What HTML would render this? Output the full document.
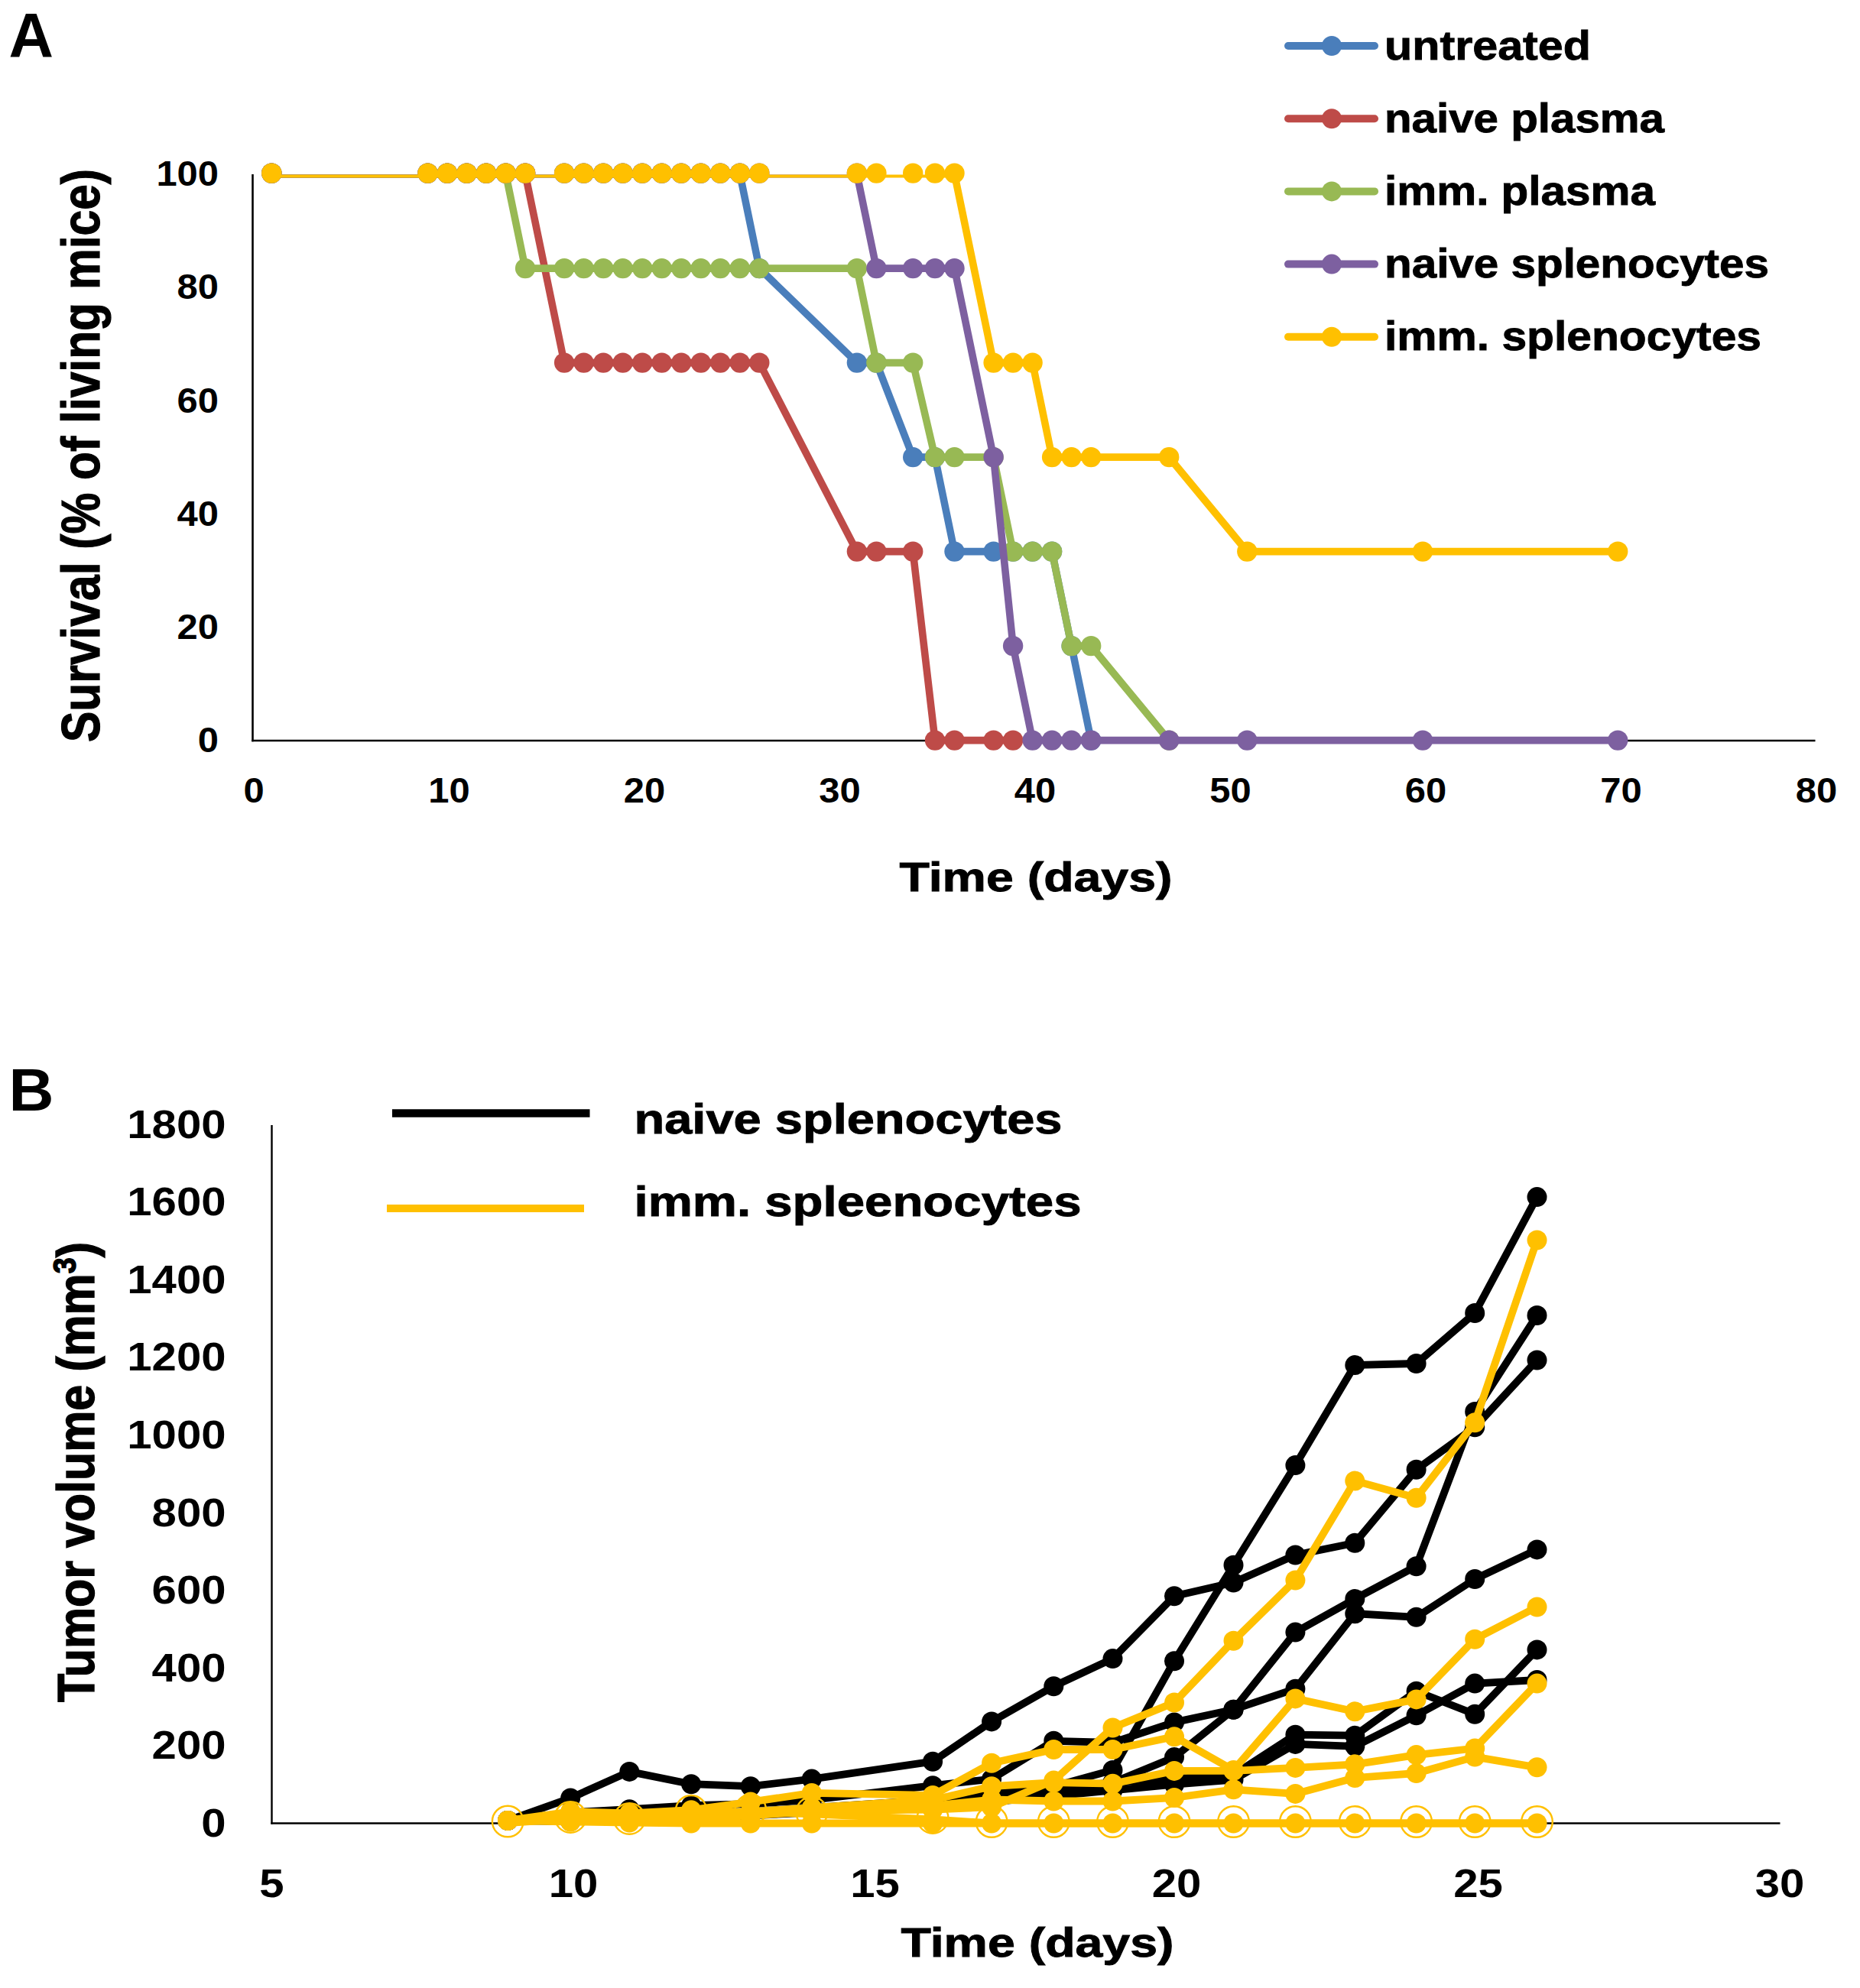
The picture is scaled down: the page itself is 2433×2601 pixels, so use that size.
<!DOCTYPE html>
<html lang="en">
<head>
<meta charset="utf-8">
<title>Figure: survival and tumor volume</title>
<style>
html,body{margin:0;padding:0;background:#fff;}
body{width:2433px;height:2601px;overflow:hidden;}
svg{display:block;}
text{fill:#000;}
</style>
</head>
<body>
<svg width="2433" height="2601" viewBox="0 0 2433 2601">
<rect x="0" y="0" width="2433" height="2601" fill="#ffffff"/>
<defs><clipPath id="clipA"><rect x="0" y="228.5" width="2433" height="900"/></clipPath></defs>
<g id="chartA">
<line x1="330.5" y1="228" x2="330.5" y2="970.2" stroke="#000" stroke-width="2.6"/>
<line x1="329.2" y1="969" x2="2374.5" y2="969" stroke="#000" stroke-width="2.6"/>
<g class="s-blue">
<polyline clip-path="url(#clipA)" points="355.3,227.6 559.5,227.6 585.0,227.6 610.5,227.6 636.0,227.6 661.6,227.6 687.1,227.6 738.1,227.6 763.6,227.6 789.2,227.6 814.7,227.6 840.2,227.6 865.7,227.6 891.2,227.6 916.8,227.6 942.3,227.6 967.8,227.6 993.3,351.1 1120.9,474.6 1146.4,474.6 1194.2,598.1 1223.0,598.1 1248.5,721.6 1299.6,721.6 1325.1,721.6 1350.6,721.6 1376.1,721.6 1401.6,845.1 1427.2,968.6" fill="none" stroke="#4a7ebb" stroke-width="9.6" stroke-linejoin="round" stroke-linecap="round"/>
<circle cx="355.3" cy="226.6" r="13.2" fill="#4a7ebb"/>
<circle cx="559.5" cy="226.6" r="13.2" fill="#4a7ebb"/>
<circle cx="585.0" cy="226.6" r="13.2" fill="#4a7ebb"/>
<circle cx="610.5" cy="226.6" r="13.2" fill="#4a7ebb"/>
<circle cx="636.0" cy="226.6" r="13.2" fill="#4a7ebb"/>
<circle cx="661.6" cy="226.6" r="13.2" fill="#4a7ebb"/>
<circle cx="687.1" cy="226.6" r="13.2" fill="#4a7ebb"/>
<circle cx="738.1" cy="226.6" r="13.2" fill="#4a7ebb"/>
<circle cx="763.6" cy="226.6" r="13.2" fill="#4a7ebb"/>
<circle cx="789.2" cy="226.6" r="13.2" fill="#4a7ebb"/>
<circle cx="814.7" cy="226.6" r="13.2" fill="#4a7ebb"/>
<circle cx="840.2" cy="226.6" r="13.2" fill="#4a7ebb"/>
<circle cx="865.7" cy="226.6" r="13.2" fill="#4a7ebb"/>
<circle cx="891.2" cy="226.6" r="13.2" fill="#4a7ebb"/>
<circle cx="916.8" cy="226.6" r="13.2" fill="#4a7ebb"/>
<circle cx="942.3" cy="226.6" r="13.2" fill="#4a7ebb"/>
<circle cx="967.8" cy="226.6" r="13.2" fill="#4a7ebb"/>
<circle cx="993.3" cy="351.1" r="13.2" fill="#4a7ebb"/>
<circle cx="1120.9" cy="474.6" r="13.2" fill="#4a7ebb"/>
<circle cx="1146.4" cy="474.6" r="13.2" fill="#4a7ebb"/>
<circle cx="1194.2" cy="598.1" r="13.2" fill="#4a7ebb"/>
<circle cx="1223.0" cy="598.1" r="13.2" fill="#4a7ebb"/>
<circle cx="1248.5" cy="721.6" r="13.2" fill="#4a7ebb"/>
<circle cx="1299.6" cy="721.6" r="13.2" fill="#4a7ebb"/>
<circle cx="1325.1" cy="721.6" r="13.2" fill="#4a7ebb"/>
<circle cx="1350.6" cy="721.6" r="13.2" fill="#4a7ebb"/>
<circle cx="1376.1" cy="721.6" r="13.2" fill="#4a7ebb"/>
<circle cx="1401.6" cy="845.1" r="13.2" fill="#4a7ebb"/>
<circle cx="1427.2" cy="968.6" r="13.2" fill="#4a7ebb"/>
</g>
<g class="s-red">
<polyline clip-path="url(#clipA)" points="355.3,227.6 559.5,227.6 585.0,227.6 610.5,227.6 636.0,227.6 661.6,227.6 687.1,227.6 738.1,474.6 763.6,474.6 789.2,474.6 814.7,474.6 840.2,474.6 865.7,474.6 891.2,474.6 916.8,474.6 942.3,474.6 967.8,474.6 993.3,474.6 1120.9,721.6 1146.4,721.6 1194.2,721.6 1223.0,968.6 1248.5,968.6 1299.6,968.6 1325.1,968.6" fill="none" stroke="#be4b48" stroke-width="9.6" stroke-linejoin="round" stroke-linecap="round"/>
<circle cx="355.3" cy="226.6" r="13.2" fill="#be4b48"/>
<circle cx="559.5" cy="226.6" r="13.2" fill="#be4b48"/>
<circle cx="585.0" cy="226.6" r="13.2" fill="#be4b48"/>
<circle cx="610.5" cy="226.6" r="13.2" fill="#be4b48"/>
<circle cx="636.0" cy="226.6" r="13.2" fill="#be4b48"/>
<circle cx="661.6" cy="226.6" r="13.2" fill="#be4b48"/>
<circle cx="687.1" cy="226.6" r="13.2" fill="#be4b48"/>
<circle cx="738.1" cy="474.6" r="13.2" fill="#be4b48"/>
<circle cx="763.6" cy="474.6" r="13.2" fill="#be4b48"/>
<circle cx="789.2" cy="474.6" r="13.2" fill="#be4b48"/>
<circle cx="814.7" cy="474.6" r="13.2" fill="#be4b48"/>
<circle cx="840.2" cy="474.6" r="13.2" fill="#be4b48"/>
<circle cx="865.7" cy="474.6" r="13.2" fill="#be4b48"/>
<circle cx="891.2" cy="474.6" r="13.2" fill="#be4b48"/>
<circle cx="916.8" cy="474.6" r="13.2" fill="#be4b48"/>
<circle cx="942.3" cy="474.6" r="13.2" fill="#be4b48"/>
<circle cx="967.8" cy="474.6" r="13.2" fill="#be4b48"/>
<circle cx="993.3" cy="474.6" r="13.2" fill="#be4b48"/>
<circle cx="1120.9" cy="721.6" r="13.2" fill="#be4b48"/>
<circle cx="1146.4" cy="721.6" r="13.2" fill="#be4b48"/>
<circle cx="1194.2" cy="721.6" r="13.2" fill="#be4b48"/>
<circle cx="1223.0" cy="968.6" r="13.2" fill="#be4b48"/>
<circle cx="1248.5" cy="968.6" r="13.2" fill="#be4b48"/>
<circle cx="1299.6" cy="968.6" r="13.2" fill="#be4b48"/>
<circle cx="1325.1" cy="968.6" r="13.2" fill="#be4b48"/>
</g>
<g class="s-green">
<polyline clip-path="url(#clipA)" points="355.3,227.6 559.5,227.6 585.0,227.6 610.5,227.6 636.0,227.6 661.6,227.6 687.1,351.1 738.1,351.1 763.6,351.1 789.2,351.1 814.7,351.1 840.2,351.1 865.7,351.1 891.2,351.1 916.8,351.1 942.3,351.1 967.8,351.1 993.3,351.1 1120.9,351.1 1146.4,474.6 1194.2,474.6 1223.0,598.1 1248.5,598.1 1299.6,598.1 1325.1,721.6 1350.6,721.6 1376.1,721.6 1401.6,845.1 1427.2,845.1 1529.2,968.6" fill="none" stroke="#98b954" stroke-width="9.6" stroke-linejoin="round" stroke-linecap="round"/>
<circle cx="355.3" cy="226.6" r="13.2" fill="#98b954"/>
<circle cx="559.5" cy="226.6" r="13.2" fill="#98b954"/>
<circle cx="585.0" cy="226.6" r="13.2" fill="#98b954"/>
<circle cx="610.5" cy="226.6" r="13.2" fill="#98b954"/>
<circle cx="636.0" cy="226.6" r="13.2" fill="#98b954"/>
<circle cx="661.6" cy="226.6" r="13.2" fill="#98b954"/>
<circle cx="687.1" cy="351.1" r="13.2" fill="#98b954"/>
<circle cx="738.1" cy="351.1" r="13.2" fill="#98b954"/>
<circle cx="763.6" cy="351.1" r="13.2" fill="#98b954"/>
<circle cx="789.2" cy="351.1" r="13.2" fill="#98b954"/>
<circle cx="814.7" cy="351.1" r="13.2" fill="#98b954"/>
<circle cx="840.2" cy="351.1" r="13.2" fill="#98b954"/>
<circle cx="865.7" cy="351.1" r="13.2" fill="#98b954"/>
<circle cx="891.2" cy="351.1" r="13.2" fill="#98b954"/>
<circle cx="916.8" cy="351.1" r="13.2" fill="#98b954"/>
<circle cx="942.3" cy="351.1" r="13.2" fill="#98b954"/>
<circle cx="967.8" cy="351.1" r="13.2" fill="#98b954"/>
<circle cx="993.3" cy="351.1" r="13.2" fill="#98b954"/>
<circle cx="1120.9" cy="351.1" r="13.2" fill="#98b954"/>
<circle cx="1146.4" cy="474.6" r="13.2" fill="#98b954"/>
<circle cx="1194.2" cy="474.6" r="13.2" fill="#98b954"/>
<circle cx="1223.0" cy="598.1" r="13.2" fill="#98b954"/>
<circle cx="1248.5" cy="598.1" r="13.2" fill="#98b954"/>
<circle cx="1299.6" cy="598.1" r="13.2" fill="#98b954"/>
<circle cx="1325.1" cy="721.6" r="13.2" fill="#98b954"/>
<circle cx="1350.6" cy="721.6" r="13.2" fill="#98b954"/>
<circle cx="1376.1" cy="721.6" r="13.2" fill="#98b954"/>
<circle cx="1401.6" cy="845.1" r="13.2" fill="#98b954"/>
<circle cx="1427.2" cy="845.1" r="13.2" fill="#98b954"/>
<circle cx="1529.2" cy="968.6" r="13.2" fill="#98b954"/>
</g>
<g class="s-purple">
<polyline clip-path="url(#clipA)" points="355.3,227.6 559.5,227.6 585.0,227.6 610.5,227.6 636.0,227.6 661.6,227.6 687.1,227.6 738.1,227.6 763.6,227.6 789.2,227.6 814.7,227.6 840.2,227.6 865.7,227.6 891.2,227.6 916.8,227.6 942.3,227.6 967.8,227.6 993.3,227.6 1120.9,227.6 1146.4,351.1 1194.2,351.1 1223.0,351.1 1248.5,351.1 1299.6,598.1 1325.1,845.1 1350.6,968.6 1376.1,968.6 1401.6,968.6 1427.2,968.6 1529.2,968.6 1631.3,968.6 1861.0,968.6 2116.2,968.6" fill="none" stroke="#7d60a0" stroke-width="9.6" stroke-linejoin="round" stroke-linecap="round"/>
<circle cx="355.3" cy="226.6" r="13.2" fill="#7d60a0"/>
<circle cx="559.5" cy="226.6" r="13.2" fill="#7d60a0"/>
<circle cx="585.0" cy="226.6" r="13.2" fill="#7d60a0"/>
<circle cx="610.5" cy="226.6" r="13.2" fill="#7d60a0"/>
<circle cx="636.0" cy="226.6" r="13.2" fill="#7d60a0"/>
<circle cx="661.6" cy="226.6" r="13.2" fill="#7d60a0"/>
<circle cx="687.1" cy="226.6" r="13.2" fill="#7d60a0"/>
<circle cx="738.1" cy="226.6" r="13.2" fill="#7d60a0"/>
<circle cx="763.6" cy="226.6" r="13.2" fill="#7d60a0"/>
<circle cx="789.2" cy="226.6" r="13.2" fill="#7d60a0"/>
<circle cx="814.7" cy="226.6" r="13.2" fill="#7d60a0"/>
<circle cx="840.2" cy="226.6" r="13.2" fill="#7d60a0"/>
<circle cx="865.7" cy="226.6" r="13.2" fill="#7d60a0"/>
<circle cx="891.2" cy="226.6" r="13.2" fill="#7d60a0"/>
<circle cx="916.8" cy="226.6" r="13.2" fill="#7d60a0"/>
<circle cx="942.3" cy="226.6" r="13.2" fill="#7d60a0"/>
<circle cx="967.8" cy="226.6" r="13.2" fill="#7d60a0"/>
<circle cx="993.3" cy="226.6" r="13.2" fill="#7d60a0"/>
<circle cx="1120.9" cy="226.6" r="13.2" fill="#7d60a0"/>
<circle cx="1146.4" cy="351.1" r="13.2" fill="#7d60a0"/>
<circle cx="1194.2" cy="351.1" r="13.2" fill="#7d60a0"/>
<circle cx="1223.0" cy="351.1" r="13.2" fill="#7d60a0"/>
<circle cx="1248.5" cy="351.1" r="13.2" fill="#7d60a0"/>
<circle cx="1299.6" cy="598.1" r="13.2" fill="#7d60a0"/>
<circle cx="1325.1" cy="845.1" r="13.2" fill="#7d60a0"/>
<circle cx="1350.6" cy="968.6" r="13.2" fill="#7d60a0"/>
<circle cx="1376.1" cy="968.6" r="13.2" fill="#7d60a0"/>
<circle cx="1401.6" cy="968.6" r="13.2" fill="#7d60a0"/>
<circle cx="1427.2" cy="968.6" r="13.2" fill="#7d60a0"/>
<circle cx="1529.2" cy="968.6" r="13.2" fill="#7d60a0"/>
<circle cx="1631.3" cy="968.6" r="13.2" fill="#7d60a0"/>
<circle cx="1861.0" cy="968.6" r="13.2" fill="#7d60a0"/>
<circle cx="2116.2" cy="968.6" r="13.2" fill="#7d60a0"/>
</g>
<g class="s-yellow">
<polyline clip-path="url(#clipA)" points="355.3,227.6 559.5,227.6 585.0,227.6 610.5,227.6 636.0,227.6 661.6,227.6 687.1,227.6 738.1,227.6 763.6,227.6 789.2,227.6 814.7,227.6 840.2,227.6 865.7,227.6 891.2,227.6 916.8,227.6 942.3,227.6 967.8,227.6 993.3,227.6 1120.9,227.6 1146.4,227.6 1194.2,227.6 1223.0,227.6 1248.5,227.6 1299.6,474.6 1325.1,474.6 1350.6,474.6 1376.1,598.1 1401.6,598.1 1427.2,598.1 1529.2,598.1 1631.3,721.6 1861.0,721.6 2116.2,721.6" fill="none" stroke="#ffc000" stroke-width="9.6" stroke-linejoin="round" stroke-linecap="round"/>
<circle cx="355.3" cy="226.6" r="13.2" fill="#ffc000"/>
<circle cx="559.5" cy="226.6" r="13.2" fill="#ffc000"/>
<circle cx="585.0" cy="226.6" r="13.2" fill="#ffc000"/>
<circle cx="610.5" cy="226.6" r="13.2" fill="#ffc000"/>
<circle cx="636.0" cy="226.6" r="13.2" fill="#ffc000"/>
<circle cx="661.6" cy="226.6" r="13.2" fill="#ffc000"/>
<circle cx="687.1" cy="226.6" r="13.2" fill="#ffc000"/>
<circle cx="738.1" cy="226.6" r="13.2" fill="#ffc000"/>
<circle cx="763.6" cy="226.6" r="13.2" fill="#ffc000"/>
<circle cx="789.2" cy="226.6" r="13.2" fill="#ffc000"/>
<circle cx="814.7" cy="226.6" r="13.2" fill="#ffc000"/>
<circle cx="840.2" cy="226.6" r="13.2" fill="#ffc000"/>
<circle cx="865.7" cy="226.6" r="13.2" fill="#ffc000"/>
<circle cx="891.2" cy="226.6" r="13.2" fill="#ffc000"/>
<circle cx="916.8" cy="226.6" r="13.2" fill="#ffc000"/>
<circle cx="942.3" cy="226.6" r="13.2" fill="#ffc000"/>
<circle cx="967.8" cy="226.6" r="13.2" fill="#ffc000"/>
<circle cx="993.3" cy="226.6" r="13.2" fill="#ffc000"/>
<circle cx="1120.9" cy="226.6" r="13.2" fill="#ffc000"/>
<circle cx="1146.4" cy="226.6" r="13.2" fill="#ffc000"/>
<circle cx="1194.2" cy="226.6" r="13.2" fill="#ffc000"/>
<circle cx="1223.0" cy="226.6" r="13.2" fill="#ffc000"/>
<circle cx="1248.5" cy="226.6" r="13.2" fill="#ffc000"/>
<circle cx="1299.6" cy="474.6" r="13.2" fill="#ffc000"/>
<circle cx="1325.1" cy="474.6" r="13.2" fill="#ffc000"/>
<circle cx="1350.6" cy="474.6" r="13.2" fill="#ffc000"/>
<circle cx="1376.1" cy="598.1" r="13.2" fill="#ffc000"/>
<circle cx="1401.6" cy="598.1" r="13.2" fill="#ffc000"/>
<circle cx="1427.2" cy="598.1" r="13.2" fill="#ffc000"/>
<circle cx="1529.2" cy="598.1" r="13.2" fill="#ffc000"/>
<circle cx="1631.3" cy="721.6" r="13.2" fill="#ffc000"/>
<circle cx="1861.0" cy="721.6" r="13.2" fill="#ffc000"/>
<circle cx="2116.2" cy="721.6" r="13.2" fill="#ffc000"/>
</g>
<text x="286" y="984.1" text-anchor="end" font-family="'Liberation Sans', sans-serif" font-weight="bold" font-size="46" textLength="27.2" lengthAdjust="spacingAndGlyphs">0</text>
<text x="286" y="835.9" text-anchor="end" font-family="'Liberation Sans', sans-serif" font-weight="bold" font-size="46" textLength="54.4" lengthAdjust="spacingAndGlyphs">20</text>
<text x="286" y="687.7" text-anchor="end" font-family="'Liberation Sans', sans-serif" font-weight="bold" font-size="46" textLength="54.4" lengthAdjust="spacingAndGlyphs">40</text>
<text x="286" y="539.5" text-anchor="end" font-family="'Liberation Sans', sans-serif" font-weight="bold" font-size="46" textLength="54.4" lengthAdjust="spacingAndGlyphs">60</text>
<text x="286" y="391.3" text-anchor="end" font-family="'Liberation Sans', sans-serif" font-weight="bold" font-size="46" textLength="54.4" lengthAdjust="spacingAndGlyphs">80</text>
<text x="286" y="243.1" text-anchor="end" font-family="'Liberation Sans', sans-serif" font-weight="bold" font-size="46" textLength="81.6" lengthAdjust="spacingAndGlyphs">100</text>
<text x="332.0" y="1049.5" text-anchor="middle" font-family="'Liberation Sans', sans-serif" font-weight="bold" font-size="46" textLength="27.2" lengthAdjust="spacingAndGlyphs">0</text>
<text x="587.5" y="1049.5" text-anchor="middle" font-family="'Liberation Sans', sans-serif" font-weight="bold" font-size="46" textLength="54.4" lengthAdjust="spacingAndGlyphs">10</text>
<text x="843.0" y="1049.5" text-anchor="middle" font-family="'Liberation Sans', sans-serif" font-weight="bold" font-size="46" textLength="54.4" lengthAdjust="spacingAndGlyphs">20</text>
<text x="1098.5" y="1049.5" text-anchor="middle" font-family="'Liberation Sans', sans-serif" font-weight="bold" font-size="46" textLength="54.4" lengthAdjust="spacingAndGlyphs">30</text>
<text x="1354.0" y="1049.5" text-anchor="middle" font-family="'Liberation Sans', sans-serif" font-weight="bold" font-size="46" textLength="54.4" lengthAdjust="spacingAndGlyphs">40</text>
<text x="1609.5" y="1049.5" text-anchor="middle" font-family="'Liberation Sans', sans-serif" font-weight="bold" font-size="46" textLength="54.4" lengthAdjust="spacingAndGlyphs">50</text>
<text x="1865.0" y="1049.5" text-anchor="middle" font-family="'Liberation Sans', sans-serif" font-weight="bold" font-size="46" textLength="54.4" lengthAdjust="spacingAndGlyphs">60</text>
<text x="2120.5" y="1049.5" text-anchor="middle" font-family="'Liberation Sans', sans-serif" font-weight="bold" font-size="46" textLength="54.4" lengthAdjust="spacingAndGlyphs">70</text>
<text x="2376.0" y="1049.5" text-anchor="middle" font-family="'Liberation Sans', sans-serif" font-weight="bold" font-size="46" textLength="54.4" lengthAdjust="spacingAndGlyphs">80</text>
<text transform="translate(130,971) rotate(-90)" font-family="'Liberation Sans', sans-serif" font-weight="bold" font-size="70" textLength="750" lengthAdjust="spacingAndGlyphs" stroke="#000" stroke-width="1.2">Survival (% of living mice)</text>
<text x="1176.5" y="1166" font-family="'Liberation Sans', sans-serif" font-weight="bold" font-size="54" textLength="357" lengthAdjust="spacingAndGlyphs" stroke="#000" stroke-width="0.9">Time (days)</text>
<line x1="1685" y1="60.0" x2="1798" y2="60.0" stroke="#4a7ebb" stroke-width="10" stroke-linecap="round"/>
<circle cx="1742" cy="60.0" r="13" fill="#4a7ebb"/>
<text x="1811" y="77.6" font-family="'Liberation Sans', sans-serif" font-weight="bold" font-size="54.5" textLength="270" lengthAdjust="spacingAndGlyphs" stroke="#000" stroke-width="0.9">untreated</text>
<line x1="1685" y1="155.2" x2="1798" y2="155.2" stroke="#be4b48" stroke-width="10" stroke-linecap="round"/>
<circle cx="1742" cy="155.2" r="13" fill="#be4b48"/>
<text x="1811" y="172.8" font-family="'Liberation Sans', sans-serif" font-weight="bold" font-size="54.5" textLength="366" lengthAdjust="spacingAndGlyphs" stroke="#000" stroke-width="0.9">naive plasma</text>
<line x1="1685" y1="250.4" x2="1798" y2="250.4" stroke="#98b954" stroke-width="10" stroke-linecap="round"/>
<circle cx="1742" cy="250.4" r="13" fill="#98b954"/>
<text x="1811" y="268.0" font-family="'Liberation Sans', sans-serif" font-weight="bold" font-size="54.5" textLength="354" lengthAdjust="spacingAndGlyphs" stroke="#000" stroke-width="0.9">imm. plasma</text>
<line x1="1685" y1="345.6" x2="1798" y2="345.6" stroke="#7d60a0" stroke-width="10" stroke-linecap="round"/>
<circle cx="1742" cy="345.6" r="13" fill="#7d60a0"/>
<text x="1811" y="363.2" font-family="'Liberation Sans', sans-serif" font-weight="bold" font-size="54.5" textLength="503" lengthAdjust="spacingAndGlyphs" stroke="#000" stroke-width="0.9">naive splenocytes</text>
<line x1="1685" y1="440.8" x2="1798" y2="440.8" stroke="#ffc000" stroke-width="10" stroke-linecap="round"/>
<circle cx="1742" cy="440.8" r="13" fill="#ffc000"/>
<text x="1811" y="458.4" font-family="'Liberation Sans', sans-serif" font-weight="bold" font-size="54.5" textLength="493" lengthAdjust="spacingAndGlyphs" stroke="#000" stroke-width="0.9">imm. splenocytes</text>
</g>
<text x="11.5" y="74.2" font-family="'Liberation Sans', sans-serif" font-weight="bold" font-size="81">A</text>
<text x="11.5" y="1453" font-family="'Liberation Sans', sans-serif" font-weight="bold" font-size="77" textLength="59" lengthAdjust="spacingAndGlyphs">B</text>
<g id="chartB">
<line x1="355.5" y1="1472" x2="355.5" y2="2386.6" stroke="#000" stroke-width="2.4"/>
<line x1="354.3" y1="2385.5" x2="2328.5" y2="2385.5" stroke="#000" stroke-width="2.4"/>
<polyline points="664.2,2381.9 746.2,2377.9 823.3,2375.3 904.1,2372.8 981.8,2370.3 1061.8,2365.2 1220.1,2355.0 1297.1,2347.4 1378.3,2337.2 1455.5,2315.9 1536.0,2173.2 1613.5,2047.7 1694.4,1917.1 1772.3,1786.1 1852.6,1784.0 1929.2,1718.0 2010.5,1566.1" fill="none" stroke="#000" stroke-width="9.8" stroke-linejoin="round" stroke-linecap="round"/>
<circle cx="664.2" cy="2381.9" r="13" fill="#000"/>
<circle cx="746.2" cy="2377.9" r="13" fill="#000"/>
<circle cx="823.3" cy="2375.3" r="13" fill="#000"/>
<circle cx="904.1" cy="2372.8" r="13" fill="#000"/>
<circle cx="981.8" cy="2370.3" r="13" fill="#000"/>
<circle cx="1061.8" cy="2365.2" r="13" fill="#000"/>
<circle cx="1220.1" cy="2355.0" r="13" fill="#000"/>
<circle cx="1297.1" cy="2347.4" r="13" fill="#000"/>
<circle cx="1378.3" cy="2337.2" r="13" fill="#000"/>
<circle cx="1455.5" cy="2315.9" r="13" fill="#000"/>
<circle cx="1536.0" cy="2173.2" r="13" fill="#000"/>
<circle cx="1613.5" cy="2047.7" r="13" fill="#000"/>
<circle cx="1694.4" cy="1917.1" r="13" fill="#000"/>
<circle cx="1772.3" cy="1786.1" r="13" fill="#000"/>
<circle cx="1852.6" cy="1784.0" r="13" fill="#000"/>
<circle cx="1929.2" cy="1718.0" r="13" fill="#000"/>
<circle cx="2010.5" cy="1566.1" r="13" fill="#000"/>
<polyline points="664.2,2381.9 746.2,2380.4 823.3,2377.9 904.1,2375.3 981.8,2372.8 1061.8,2370.3 1220.1,2362.6 1297.1,2355.0 1378.3,2344.9 1455.5,2332.2 1536.0,2299.1 1613.5,2236.7 1694.4,2135.6 1772.3,2091.9 1852.6,2049.2 1929.2,1847.0 2010.5,1721.0" fill="none" stroke="#000" stroke-width="9.8" stroke-linejoin="round" stroke-linecap="round"/>
<circle cx="664.2" cy="2381.9" r="13" fill="#000"/>
<circle cx="746.2" cy="2380.4" r="13" fill="#000"/>
<circle cx="823.3" cy="2377.9" r="13" fill="#000"/>
<circle cx="904.1" cy="2375.3" r="13" fill="#000"/>
<circle cx="981.8" cy="2372.8" r="13" fill="#000"/>
<circle cx="1061.8" cy="2370.3" r="13" fill="#000"/>
<circle cx="1220.1" cy="2362.6" r="13" fill="#000"/>
<circle cx="1297.1" cy="2355.0" r="13" fill="#000"/>
<circle cx="1378.3" cy="2344.9" r="13" fill="#000"/>
<circle cx="1455.5" cy="2332.2" r="13" fill="#000"/>
<circle cx="1536.0" cy="2299.1" r="13" fill="#000"/>
<circle cx="1613.5" cy="2236.7" r="13" fill="#000"/>
<circle cx="1694.4" cy="2135.6" r="13" fill="#000"/>
<circle cx="1772.3" cy="2091.9" r="13" fill="#000"/>
<circle cx="1852.6" cy="2049.2" r="13" fill="#000"/>
<circle cx="1929.2" cy="1847.0" r="13" fill="#000"/>
<circle cx="2010.5" cy="1721.0" r="13" fill="#000"/>
<polyline points="664.2,2381.9 746.2,2352.5 823.3,2317.9 904.1,2334.2 981.8,2337.2 1061.8,2327.6 1220.1,2304.7 1297.1,2252.4 1378.3,2206.2 1455.5,2170.1 1536.0,2088.3 1613.5,2070.5 1694.4,2034.5 1772.3,2018.7 1852.6,1922.7 1929.2,1867.3 2010.5,1779.5" fill="none" stroke="#000" stroke-width="9.8" stroke-linejoin="round" stroke-linecap="round"/>
<circle cx="664.2" cy="2381.9" r="13" fill="#000"/>
<circle cx="746.2" cy="2352.5" r="13" fill="#000"/>
<circle cx="823.3" cy="2317.9" r="13" fill="#000"/>
<circle cx="904.1" cy="2334.2" r="13" fill="#000"/>
<circle cx="981.8" cy="2337.2" r="13" fill="#000"/>
<circle cx="1061.8" cy="2327.6" r="13" fill="#000"/>
<circle cx="1220.1" cy="2304.7" r="13" fill="#000"/>
<circle cx="1297.1" cy="2252.4" r="13" fill="#000"/>
<circle cx="1378.3" cy="2206.2" r="13" fill="#000"/>
<circle cx="1455.5" cy="2170.1" r="13" fill="#000"/>
<circle cx="1536.0" cy="2088.3" r="13" fill="#000"/>
<circle cx="1613.5" cy="2070.5" r="13" fill="#000"/>
<circle cx="1694.4" cy="2034.5" r="13" fill="#000"/>
<circle cx="1772.3" cy="2018.7" r="13" fill="#000"/>
<circle cx="1852.6" cy="1922.7" r="13" fill="#000"/>
<circle cx="1929.2" cy="1867.3" r="13" fill="#000"/>
<circle cx="2010.5" cy="1779.5" r="13" fill="#000"/>
<polyline points="664.2,2381.9 746.2,2371.3 823.3,2367.2 904.1,2362.1 981.8,2360.1 1061.8,2355.0 1220.1,2336.2 1297.1,2327.6 1378.3,2277.8 1455.5,2279.8 1536.0,2253.4 1613.5,2236.7 1694.4,2209.7 1772.3,2111.2 1852.6,2115.8 1929.2,2066.0 2010.5,2027.4" fill="none" stroke="#000" stroke-width="9.8" stroke-linejoin="round" stroke-linecap="round"/>
<circle cx="664.2" cy="2381.9" r="13" fill="#000"/>
<circle cx="746.2" cy="2371.3" r="13" fill="#000"/>
<circle cx="823.3" cy="2367.2" r="13" fill="#000"/>
<circle cx="904.1" cy="2362.1" r="13" fill="#000"/>
<circle cx="981.8" cy="2360.1" r="13" fill="#000"/>
<circle cx="1061.8" cy="2355.0" r="13" fill="#000"/>
<circle cx="1220.1" cy="2336.2" r="13" fill="#000"/>
<circle cx="1297.1" cy="2327.6" r="13" fill="#000"/>
<circle cx="1378.3" cy="2277.8" r="13" fill="#000"/>
<circle cx="1455.5" cy="2279.8" r="13" fill="#000"/>
<circle cx="1536.0" cy="2253.4" r="13" fill="#000"/>
<circle cx="1613.5" cy="2236.7" r="13" fill="#000"/>
<circle cx="1694.4" cy="2209.7" r="13" fill="#000"/>
<circle cx="1772.3" cy="2111.2" r="13" fill="#000"/>
<circle cx="1852.6" cy="2115.8" r="13" fill="#000"/>
<circle cx="1929.2" cy="2066.0" r="13" fill="#000"/>
<circle cx="2010.5" cy="2027.4" r="13" fill="#000"/>
<polyline points="664.2,2381.9 746.2,2381.4 823.3,2379.4 904.1,2376.4 981.8,2372.8 1061.8,2367.7 1220.1,2360.1 1297.1,2349.9 1378.3,2339.8 1455.5,2332.2 1536.0,2327.1 1613.5,2322.0 1694.4,2269.7 1772.3,2270.7 1852.6,2212.8 1929.2,2242.8 2010.5,2158.4" fill="none" stroke="#000" stroke-width="9.8" stroke-linejoin="round" stroke-linecap="round"/>
<circle cx="664.2" cy="2381.9" r="13" fill="#000"/>
<circle cx="746.2" cy="2381.4" r="13" fill="#000"/>
<circle cx="823.3" cy="2379.4" r="13" fill="#000"/>
<circle cx="904.1" cy="2376.4" r="13" fill="#000"/>
<circle cx="981.8" cy="2372.8" r="13" fill="#000"/>
<circle cx="1061.8" cy="2367.7" r="13" fill="#000"/>
<circle cx="1220.1" cy="2360.1" r="13" fill="#000"/>
<circle cx="1297.1" cy="2349.9" r="13" fill="#000"/>
<circle cx="1378.3" cy="2339.8" r="13" fill="#000"/>
<circle cx="1455.5" cy="2332.2" r="13" fill="#000"/>
<circle cx="1536.0" cy="2327.1" r="13" fill="#000"/>
<circle cx="1613.5" cy="2322.0" r="13" fill="#000"/>
<circle cx="1694.4" cy="2269.7" r="13" fill="#000"/>
<circle cx="1772.3" cy="2270.7" r="13" fill="#000"/>
<circle cx="1852.6" cy="2212.8" r="13" fill="#000"/>
<circle cx="1929.2" cy="2242.8" r="13" fill="#000"/>
<circle cx="2010.5" cy="2158.4" r="13" fill="#000"/>
<polyline points="664.2,2381.9 746.2,2383.0 823.3,2380.4 904.1,2377.9 981.8,2375.3 1061.8,2371.3 1220.1,2365.2 1297.1,2357.6 1378.3,2349.9 1455.5,2342.3 1536.0,2334.7 1613.5,2328.6 1694.4,2281.9 1772.3,2284.9 1852.6,2244.3 1929.2,2202.6 2010.5,2198.0" fill="none" stroke="#000" stroke-width="9.8" stroke-linejoin="round" stroke-linecap="round"/>
<circle cx="664.2" cy="2381.9" r="13" fill="#000"/>
<circle cx="746.2" cy="2383.0" r="13" fill="#000"/>
<circle cx="823.3" cy="2380.4" r="13" fill="#000"/>
<circle cx="904.1" cy="2377.9" r="13" fill="#000"/>
<circle cx="981.8" cy="2375.3" r="13" fill="#000"/>
<circle cx="1061.8" cy="2371.3" r="13" fill="#000"/>
<circle cx="1220.1" cy="2365.2" r="13" fill="#000"/>
<circle cx="1297.1" cy="2357.6" r="13" fill="#000"/>
<circle cx="1378.3" cy="2349.9" r="13" fill="#000"/>
<circle cx="1455.5" cy="2342.3" r="13" fill="#000"/>
<circle cx="1536.0" cy="2334.7" r="13" fill="#000"/>
<circle cx="1613.5" cy="2328.6" r="13" fill="#000"/>
<circle cx="1694.4" cy="2281.9" r="13" fill="#000"/>
<circle cx="1772.3" cy="2284.9" r="13" fill="#000"/>
<circle cx="1852.6" cy="2244.3" r="13" fill="#000"/>
<circle cx="1929.2" cy="2202.6" r="13" fill="#000"/>
<circle cx="2010.5" cy="2198.0" r="13" fill="#000"/>
<polyline points="664.2,2385.0 746.2,2379.4 823.3,2381.4 904.1,2371.3 981.8,2370.3 1061.8,2373.3 1220.1,2380.4 1297.1,2385.5 1378.3,2385.5 1455.5,2385.5 1536.0,2385.5 1613.5,2385.5 1694.4,2385.5 1772.3,2385.5 1852.6,2385.5 1929.2,2385.5 2010.5,2385.5" fill="none" stroke="#ffc000" stroke-width="9.8" stroke-linejoin="round" stroke-linecap="round"/>
<circle cx="664.2" cy="2383.0" r="20.3" fill="none" stroke="#ffc000" stroke-width="2.4"/>
<circle cx="746.2" cy="2377.4" r="20.3" fill="none" stroke="#ffc000" stroke-width="2.4"/>
<circle cx="823.3" cy="2379.4" r="20.3" fill="none" stroke="#ffc000" stroke-width="2.4"/>
<circle cx="904.1" cy="2369.3" r="20.3" fill="none" stroke="#ffc000" stroke-width="2.4"/>
<circle cx="981.8" cy="2368.3" r="20.3" fill="none" stroke="#ffc000" stroke-width="2.4"/>
<circle cx="1061.8" cy="2371.3" r="20.3" fill="none" stroke="#ffc000" stroke-width="2.4"/>
<circle cx="1220.1" cy="2378.4" r="20.3" fill="none" stroke="#ffc000" stroke-width="2.4"/>
<circle cx="1297.1" cy="2383.5" r="20.3" fill="none" stroke="#ffc000" stroke-width="2.4"/>
<circle cx="1378.3" cy="2383.5" r="20.3" fill="none" stroke="#ffc000" stroke-width="2.4"/>
<circle cx="1455.5" cy="2383.5" r="20.3" fill="none" stroke="#ffc000" stroke-width="2.4"/>
<circle cx="1536.0" cy="2383.5" r="20.3" fill="none" stroke="#ffc000" stroke-width="2.4"/>
<circle cx="1613.5" cy="2383.5" r="20.3" fill="none" stroke="#ffc000" stroke-width="2.4"/>
<circle cx="1694.4" cy="2383.5" r="20.3" fill="none" stroke="#ffc000" stroke-width="2.4"/>
<circle cx="1772.3" cy="2383.5" r="20.3" fill="none" stroke="#ffc000" stroke-width="2.4"/>
<circle cx="1852.6" cy="2383.5" r="20.3" fill="none" stroke="#ffc000" stroke-width="2.4"/>
<circle cx="1929.2" cy="2383.5" r="20.3" fill="none" stroke="#ffc000" stroke-width="2.4"/>
<circle cx="2010.5" cy="2383.5" r="20.3" fill="none" stroke="#ffc000" stroke-width="2.4"/>
<polyline points="664.2,2381.9 746.2,2372.8 823.3,2374.3 904.1,2375.3 981.8,2372.8 1061.8,2369.2 1220.1,2367.7 1297.1,2364.2 1378.3,2329.6 1455.5,2260.5 1536.0,2227.5 1613.5,2146.7 1694.4,2067.5 1772.3,1937.4 1852.6,1959.8 1929.2,1861.2 2010.5,1622.5" fill="none" stroke="#ffc000" stroke-width="9.8" stroke-linejoin="round" stroke-linecap="round"/>
<circle cx="664.2" cy="2381.9" r="13" fill="#ffc000"/>
<circle cx="746.2" cy="2372.8" r="13" fill="#ffc000"/>
<circle cx="823.3" cy="2374.3" r="13" fill="#ffc000"/>
<circle cx="904.1" cy="2375.3" r="13" fill="#ffc000"/>
<circle cx="981.8" cy="2372.8" r="13" fill="#ffc000"/>
<circle cx="1061.8" cy="2369.2" r="13" fill="#ffc000"/>
<circle cx="1220.1" cy="2367.7" r="13" fill="#ffc000"/>
<circle cx="1297.1" cy="2364.2" r="13" fill="#ffc000"/>
<circle cx="1378.3" cy="2329.6" r="13" fill="#ffc000"/>
<circle cx="1455.5" cy="2260.5" r="13" fill="#ffc000"/>
<circle cx="1536.0" cy="2227.5" r="13" fill="#ffc000"/>
<circle cx="1613.5" cy="2146.7" r="13" fill="#ffc000"/>
<circle cx="1694.4" cy="2067.5" r="13" fill="#ffc000"/>
<circle cx="1772.3" cy="1937.4" r="13" fill="#ffc000"/>
<circle cx="1852.6" cy="1959.8" r="13" fill="#ffc000"/>
<circle cx="1929.2" cy="1861.2" r="13" fill="#ffc000"/>
<circle cx="2010.5" cy="1622.5" r="13" fill="#ffc000"/>
<polyline points="664.2,2381.9 746.2,2370.3 823.3,2372.3 904.1,2368.2 981.8,2357.6 1061.8,2345.9 1220.1,2348.9 1297.1,2306.8 1378.3,2289.0 1455.5,2289.0 1536.0,2272.2 1613.5,2315.9 1694.4,2222.4 1772.3,2239.2 1852.6,2223.4 1929.2,2144.7 2010.5,2102.5" fill="none" stroke="#ffc000" stroke-width="9.8" stroke-linejoin="round" stroke-linecap="round"/>
<circle cx="664.2" cy="2381.9" r="13" fill="#ffc000"/>
<circle cx="746.2" cy="2370.3" r="13" fill="#ffc000"/>
<circle cx="823.3" cy="2372.3" r="13" fill="#ffc000"/>
<circle cx="904.1" cy="2368.2" r="13" fill="#ffc000"/>
<circle cx="981.8" cy="2357.6" r="13" fill="#ffc000"/>
<circle cx="1061.8" cy="2345.9" r="13" fill="#ffc000"/>
<circle cx="1220.1" cy="2348.9" r="13" fill="#ffc000"/>
<circle cx="1297.1" cy="2306.8" r="13" fill="#ffc000"/>
<circle cx="1378.3" cy="2289.0" r="13" fill="#ffc000"/>
<circle cx="1455.5" cy="2289.0" r="13" fill="#ffc000"/>
<circle cx="1536.0" cy="2272.2" r="13" fill="#ffc000"/>
<circle cx="1613.5" cy="2315.9" r="13" fill="#ffc000"/>
<circle cx="1694.4" cy="2222.4" r="13" fill="#ffc000"/>
<circle cx="1772.3" cy="2239.2" r="13" fill="#ffc000"/>
<circle cx="1852.6" cy="2223.4" r="13" fill="#ffc000"/>
<circle cx="1929.2" cy="2144.7" r="13" fill="#ffc000"/>
<circle cx="2010.5" cy="2102.5" r="13" fill="#ffc000"/>
<polyline points="664.2,2381.9 746.2,2378.4 823.3,2379.4 904.1,2378.4 981.8,2370.3 1061.8,2365.2 1220.1,2355.0 1297.1,2337.2 1378.3,2332.2 1455.5,2333.7 1536.0,2316.9 1613.5,2316.9 1694.4,2312.9 1772.3,2308.3 1852.6,2296.1 1929.2,2287.5 2010.5,2202.6" fill="none" stroke="#ffc000" stroke-width="9.8" stroke-linejoin="round" stroke-linecap="round"/>
<circle cx="664.2" cy="2381.9" r="13" fill="#ffc000"/>
<circle cx="746.2" cy="2378.4" r="13" fill="#ffc000"/>
<circle cx="823.3" cy="2379.4" r="13" fill="#ffc000"/>
<circle cx="904.1" cy="2378.4" r="13" fill="#ffc000"/>
<circle cx="981.8" cy="2370.3" r="13" fill="#ffc000"/>
<circle cx="1061.8" cy="2365.2" r="13" fill="#ffc000"/>
<circle cx="1220.1" cy="2355.0" r="13" fill="#ffc000"/>
<circle cx="1297.1" cy="2337.2" r="13" fill="#ffc000"/>
<circle cx="1378.3" cy="2332.2" r="13" fill="#ffc000"/>
<circle cx="1455.5" cy="2333.7" r="13" fill="#ffc000"/>
<circle cx="1536.0" cy="2316.9" r="13" fill="#ffc000"/>
<circle cx="1613.5" cy="2316.9" r="13" fill="#ffc000"/>
<circle cx="1694.4" cy="2312.9" r="13" fill="#ffc000"/>
<circle cx="1772.3" cy="2308.3" r="13" fill="#ffc000"/>
<circle cx="1852.6" cy="2296.1" r="13" fill="#ffc000"/>
<circle cx="1929.2" cy="2287.5" r="13" fill="#ffc000"/>
<circle cx="2010.5" cy="2202.6" r="13" fill="#ffc000"/>
<polyline points="664.2,2381.9 746.2,2375.3 823.3,2376.4 904.1,2379.4 981.8,2375.3 1061.8,2370.3 1220.1,2362.6 1297.1,2354.5 1378.3,2356.5 1455.5,2356.5 1536.0,2352.0 1613.5,2341.3 1694.4,2346.9 1772.3,2326.1 1852.6,2320.0 1929.2,2298.6 2010.5,2312.3" fill="none" stroke="#ffc000" stroke-width="9.8" stroke-linejoin="round" stroke-linecap="round"/>
<circle cx="664.2" cy="2381.9" r="13" fill="#ffc000"/>
<circle cx="746.2" cy="2375.3" r="13" fill="#ffc000"/>
<circle cx="823.3" cy="2376.4" r="13" fill="#ffc000"/>
<circle cx="904.1" cy="2379.4" r="13" fill="#ffc000"/>
<circle cx="981.8" cy="2375.3" r="13" fill="#ffc000"/>
<circle cx="1061.8" cy="2370.3" r="13" fill="#ffc000"/>
<circle cx="1220.1" cy="2362.6" r="13" fill="#ffc000"/>
<circle cx="1297.1" cy="2354.5" r="13" fill="#ffc000"/>
<circle cx="1378.3" cy="2356.5" r="13" fill="#ffc000"/>
<circle cx="1455.5" cy="2356.5" r="13" fill="#ffc000"/>
<circle cx="1536.0" cy="2352.0" r="13" fill="#ffc000"/>
<circle cx="1613.5" cy="2341.3" r="13" fill="#ffc000"/>
<circle cx="1694.4" cy="2346.9" r="13" fill="#ffc000"/>
<circle cx="1772.3" cy="2326.1" r="13" fill="#ffc000"/>
<circle cx="1852.6" cy="2320.0" r="13" fill="#ffc000"/>
<circle cx="1929.2" cy="2298.6" r="13" fill="#ffc000"/>
<circle cx="2010.5" cy="2312.3" r="13" fill="#ffc000"/>
<polyline points="664.2,2381.9 746.2,2383.5 823.3,2384.5 904.1,2385.5 981.8,2385.5 1061.8,2385.5 1220.1,2385.5 1297.1,2385.5 1378.3,2385.5 1455.5,2385.5 1536.0,2385.5 1613.5,2385.5 1694.4,2385.5 1772.3,2385.5 1852.6,2385.5 1929.2,2385.5 2010.5,2385.5" fill="none" stroke="#ffc000" stroke-width="9.8" stroke-linejoin="round" stroke-linecap="round"/>
<circle cx="664.2" cy="2381.9" r="13" fill="#ffc000"/>
<circle cx="746.2" cy="2383.5" r="13" fill="#ffc000"/>
<circle cx="823.3" cy="2384.5" r="13" fill="#ffc000"/>
<circle cx="904.1" cy="2385.5" r="13" fill="#ffc000"/>
<circle cx="981.8" cy="2385.5" r="13" fill="#ffc000"/>
<circle cx="1061.8" cy="2385.5" r="13" fill="#ffc000"/>
<circle cx="1220.1" cy="2385.5" r="13" fill="#ffc000"/>
<circle cx="1297.1" cy="2385.5" r="13" fill="#ffc000"/>
<circle cx="1378.3" cy="2385.5" r="13" fill="#ffc000"/>
<circle cx="1455.5" cy="2385.5" r="13" fill="#ffc000"/>
<circle cx="1536.0" cy="2385.5" r="13" fill="#ffc000"/>
<circle cx="1613.5" cy="2385.5" r="13" fill="#ffc000"/>
<circle cx="1694.4" cy="2385.5" r="13" fill="#ffc000"/>
<circle cx="1772.3" cy="2385.5" r="13" fill="#ffc000"/>
<circle cx="1852.6" cy="2385.5" r="13" fill="#ffc000"/>
<circle cx="1929.2" cy="2385.5" r="13" fill="#ffc000"/>
<circle cx="2010.5" cy="2385.5" r="13" fill="#ffc000"/>
<text x="295.5" y="2403.0" text-anchor="end" font-family="'Liberation Sans', sans-serif" font-weight="bold" font-size="51" textLength="32.3" lengthAdjust="spacingAndGlyphs">0</text>
<text x="295.5" y="2301.4" text-anchor="end" font-family="'Liberation Sans', sans-serif" font-weight="bold" font-size="51" textLength="96.9" lengthAdjust="spacingAndGlyphs">200</text>
<text x="295.5" y="2199.8" text-anchor="end" font-family="'Liberation Sans', sans-serif" font-weight="bold" font-size="51" textLength="96.9" lengthAdjust="spacingAndGlyphs">400</text>
<text x="295.5" y="2098.2" text-anchor="end" font-family="'Liberation Sans', sans-serif" font-weight="bold" font-size="51" textLength="96.9" lengthAdjust="spacingAndGlyphs">600</text>
<text x="295.5" y="1996.6" text-anchor="end" font-family="'Liberation Sans', sans-serif" font-weight="bold" font-size="51" textLength="96.9" lengthAdjust="spacingAndGlyphs">800</text>
<text x="295.5" y="1895.0" text-anchor="end" font-family="'Liberation Sans', sans-serif" font-weight="bold" font-size="51" textLength="129.2" lengthAdjust="spacingAndGlyphs">1000</text>
<text x="295.5" y="1793.4" text-anchor="end" font-family="'Liberation Sans', sans-serif" font-weight="bold" font-size="51" textLength="129.2" lengthAdjust="spacingAndGlyphs">1200</text>
<text x="295.5" y="1691.8" text-anchor="end" font-family="'Liberation Sans', sans-serif" font-weight="bold" font-size="51" textLength="129.2" lengthAdjust="spacingAndGlyphs">1400</text>
<text x="295.5" y="1590.2" text-anchor="end" font-family="'Liberation Sans', sans-serif" font-weight="bold" font-size="51" textLength="129.2" lengthAdjust="spacingAndGlyphs">1600</text>
<text x="295.5" y="1488.6" text-anchor="end" font-family="'Liberation Sans', sans-serif" font-weight="bold" font-size="51" textLength="129.2" lengthAdjust="spacingAndGlyphs">1800</text>
<text x="355.5" y="2482" text-anchor="middle" font-family="'Liberation Sans', sans-serif" font-weight="bold" font-size="51" textLength="32.3" lengthAdjust="spacingAndGlyphs">5</text>
<text x="750.0" y="2482" text-anchor="middle" font-family="'Liberation Sans', sans-serif" font-weight="bold" font-size="51" textLength="64.6" lengthAdjust="spacingAndGlyphs">10</text>
<text x="1144.5" y="2482" text-anchor="middle" font-family="'Liberation Sans', sans-serif" font-weight="bold" font-size="51" textLength="64.6" lengthAdjust="spacingAndGlyphs">15</text>
<text x="1539.0" y="2482" text-anchor="middle" font-family="'Liberation Sans', sans-serif" font-weight="bold" font-size="51" textLength="64.6" lengthAdjust="spacingAndGlyphs">20</text>
<text x="1933.5" y="2482" text-anchor="middle" font-family="'Liberation Sans', sans-serif" font-weight="bold" font-size="51" textLength="64.6" lengthAdjust="spacingAndGlyphs">25</text>
<text x="2328.0" y="2482" text-anchor="middle" font-family="'Liberation Sans', sans-serif" font-weight="bold" font-size="51" textLength="64.6" lengthAdjust="spacingAndGlyphs">30</text>
<text transform="translate(122.5,2227) rotate(-90)" font-family="'Liberation Sans', sans-serif" font-weight="bold" font-size="68" textLength="602" lengthAdjust="spacingAndGlyphs" stroke="#000" stroke-width="1.4">Tumor volume (mm<tspan font-size="42" dy="-24">3</tspan><tspan dy="24">)</tspan></text>
<text x="1178.5" y="2559.5" font-family="'Liberation Sans', sans-serif" font-weight="bold" font-size="54" textLength="357" lengthAdjust="spacingAndGlyphs" stroke="#000" stroke-width="0.9">Time (days)</text>
<line x1="513" y1="1456.5" x2="771.5" y2="1456.5" stroke="#000" stroke-width="10.5"/>
<line x1="506" y1="1581" x2="764" y2="1581" stroke="#ffc000" stroke-width="10"/>
<text x="829.5" y="1483" font-family="'Liberation Sans', sans-serif" font-weight="bold" font-size="55" textLength="560" lengthAdjust="spacingAndGlyphs" stroke="#000" stroke-width="0.9">naive splenocytes</text>
<text x="829.5" y="1590.5" font-family="'Liberation Sans', sans-serif" font-weight="bold" font-size="55" textLength="585" lengthAdjust="spacingAndGlyphs" stroke="#000" stroke-width="0.9">imm. spleenocytes</text>
</g>
</svg>
</body>
</html>
